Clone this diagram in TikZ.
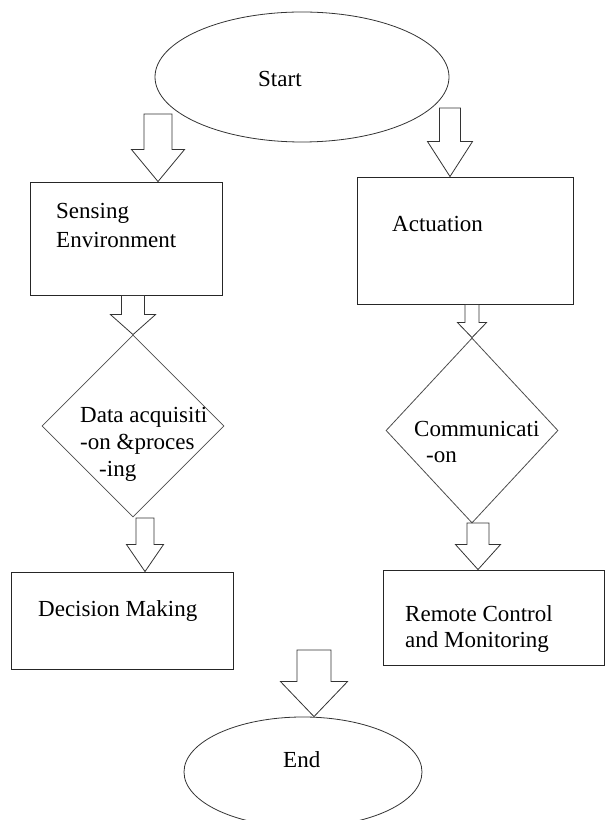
\documentclass[tikz,border=0pt]{standalone}
\usepackage{fontspec}
\setmainfont{Liberation Serif}
\usetikzlibrary{shapes.geometric,calc}

\tikzset{
  terminal/.style={shape=ellipse,draw=black!80,line width=0.8pt,inner sep=0pt},
  process/.style={shape=rectangle,draw=black!85,line width=0.9pt,inner sep=0pt},
  decision/.style={shape=diamond,draw=black!70,line width=0.8pt,inner sep=0pt},
  lbl/.style={inner sep=0pt,anchor=base west,align=left,font=\fontsize{23}{27}\selectfont},
  blockarrow/.style={draw=black!80,line width=0.8pt,line join=miter}
}

% hollow arrow: tail, tip, half shaft, half head, head length
\newcommand{\fatarrow}[5]{%
  \draw[blockarrow] let \p1=(#1), \p2=(#2) in
    (\x1-#3pt,\y1) -- (\x1+#3pt,\y1) -- (\x1+#3pt,\y2+#5pt) -- (\x1+#4pt,\y2+#5pt)
    -- (\x1,\y2) -- (\x1-#4pt,\y2+#5pt) -- (\x1-#3pt,\y2+#5pt) -- cycle;}

\begin{document}
\begin{tikzpicture}[x=1pt,y=1pt]
\useasboundingbox (0,0) rectangle (605,820);
\node[terminal,minimum width=294pt,minimum height=130pt] (start) at (302,743) {};
\node[process,minimum width=192pt,minimum height=113pt] (sense) at (126,581.5) {};
\node[process,minimum width=216pt,minimum height=127pt] (act) at (465,579.5) {};
\node[decision,minimum width=182pt,minimum height=182pt] (acq) at (133,394) {};
\node[decision,minimum width=172pt,minimum height=185pt] (comm) at (472,389.5) {};
\node[process,minimum width=222pt,minimum height=97pt] (decide) at (122,199.5) {};
\node[process,minimum width=221pt,minimum height=95pt] (remote) at (493.5,202.5) {};
\node[terminal,minimum width=238pt,minimum height=110pt] (end) at (303,48) {};

% base of a label = baseline of its last line
\node[lbl] (startlbl) at (258,733) {Start};
\node[lbl,font=\fontsize{23}{29}\selectfont] (senselbl) at (56,572) {Sensing\\Environment};
\node[lbl] (actlbl) at (392,588) {Actuation};
\node[lbl] (acqlbl) at (80,343) {Data acquisiti\\-on \&proces\\\hspace*{19pt}-ing};
\node[lbl,font=\fontsize{23}{26}\selectfont] (commlbl) at (414,357) {Communicati\\\hspace*{12pt}-on};
\node[lbl] (decidelbl) at (38,203) {Decision Making};
\node[lbl,font=\fontsize{23}{26}\selectfont] (remotelbl) at (405,172) {Remote Control\\and Monitoring};
\node[lbl] (endlbl) at (283,52) {End};

\coordinate (t1) at (158,706);
\coordinate (t2) at (450,712);
\coordinate (t5) at (145,302);
\coordinate (t6) at (478,297);
\coordinate (t7) at (314,170);

\fatarrow{t1}{sense.north -| t1}{14}{26.5}{32}
\fatarrow{t2}{act.north -| t2}{10.5}{22.5}{35}
\fatarrow{sense.south -| acq.north}{acq.north}{11.5}{22.5}{20}
\fatarrow{act.south -| comm.north}{comm.north}{7}{14.5}{15}
\fatarrow{t5}{decide.north -| t5}{9}{18.5}{27}
\fatarrow{t6}{remote.north -| t6}{11}{22.5}{25}
\fatarrow{t7}{end.north -| t7}{17}{33.5}{35}
\end{tikzpicture}
\end{document}
